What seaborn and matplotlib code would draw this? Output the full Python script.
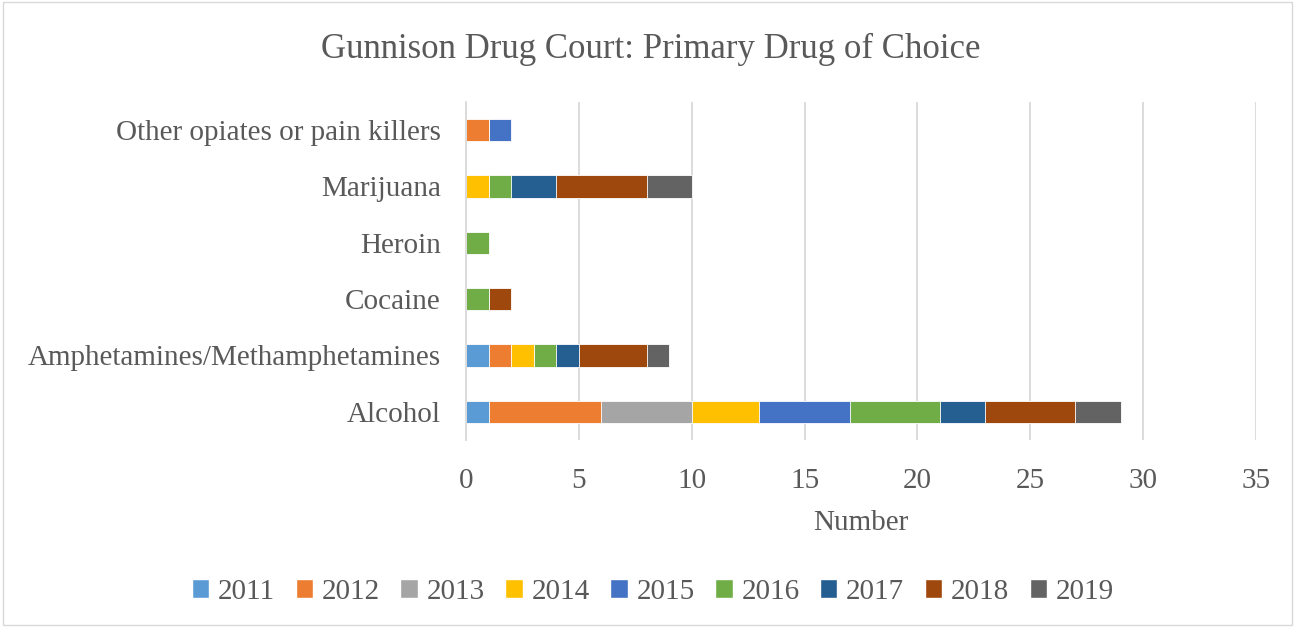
import matplotlib
matplotlib.use('Agg')
import matplotlib.pyplot as plt
from matplotlib.patches import Patch
import numpy as np
import pandas as pd
import seaborn as sns

# data
drugs = ['Other opiates or pain killers', 'Marijuana', 'Heroin', 'Cocaine',
         'Amphetamines/Methamphetamines', 'Alcohol']
years = ['2011', '2012', '2013', '2014', '2015', '2016', '2017', '2018', '2019']
y2011 = [0, 0, 0, 0, 1, 1]
y2012 = [1, 0, 0, 0, 1, 5]
y2013 = [0, 0, 0, 0, 0, 4]
y2014 = [0, 1, 0, 0, 1, 3]
y2015 = [1, 0, 0, 0, 0, 4]
y2016 = [0, 1, 1, 1, 1, 4]
y2017 = [0, 2, 0, 0, 1, 2]
y2018 = [0, 4, 0, 1, 3, 4]
y2019 = [0, 2, 0, 0, 1, 2]
colors = ['#5B9BD5', '#ED7D31', '#A5A5A5', '#FFC000', '#4472C4',
          '#70AD47', '#255E91', '#9E480E', '#636363']

sns.set_style('white')
plt.rcParams['font.family'] = ['Liberation Serif', 'DejaVu Serif']
grey = '#595959'

df = pd.DataFrame(np.array([y2011, y2012, y2013, y2014, y2015, y2016,
                            y2017, y2018, y2019]).T, index=drugs, columns=years)
cum = df.cumsum(axis=1)

fig = plt.figure(figsize=(12.95, 6.27), dpi=100)
ax = fig.add_axes([466 / 1295, 1 - 440 / 627, (1256 - 466) / 1295, (440 - 102) / 627])

# stacked bars: draw cumulative totals from last year back to first
for yr, c in zip(years[::-1], colors[::-1]):
    sns.barplot(x=cum[yr].values, y=drugs, order=drugs, orient='h', color=c,
                width=0.4, ax=ax, saturation=1, edgecolor='white', linewidth=0.6)

ax.set_xlim(0, 35)
ax.set_xticks(range(0, 36, 5))
ax.xaxis.grid(True, color='#d9d9d9', linewidth=1.3)
ax.set_axisbelow(True)
for s in ['top', 'right', 'bottom']:
    ax.spines[s].set_visible(False)
ax.spines['left'].set_color('#d9d9d9')
ax.spines['left'].set_linewidth(1.3)
ax.tick_params(axis='both', length=0, colors=grey, labelsize=21)
ax.tick_params(axis='y', pad=18)
ax.tick_params(axis='x', pad=20)
ax.set_xlabel('Number', fontsize=21, color=grey, labelpad=12)
ax.set_ylabel('')

fig.text(651 / 1295, 1 - 49 / 627, 'Gunnison Drug Court: Primary Drug of Choice',
         ha='center', va='center', fontsize=25, color=grey)

handles = [Patch(facecolor=c, label=y) for y, c in zip(years, colors)]
fig.legend(handles=handles, loc='center', bbox_to_anchor=(653 / 1295, 1 - 592 / 627),
           ncol=9, frameon=False, fontsize=21, labelcolor=grey,
           handlelength=0.6, handleheight=0.6, handletextpad=0.3, columnspacing=0.7)

fig.patches.append(plt.Rectangle((0.002, 0.003), 0.996, 0.994, transform=fig.transFigure,
                                 fill=False, edgecolor='#d9d9d9', linewidth=1))

fig.savefig('out.png', dpi=100, facecolor='white')
